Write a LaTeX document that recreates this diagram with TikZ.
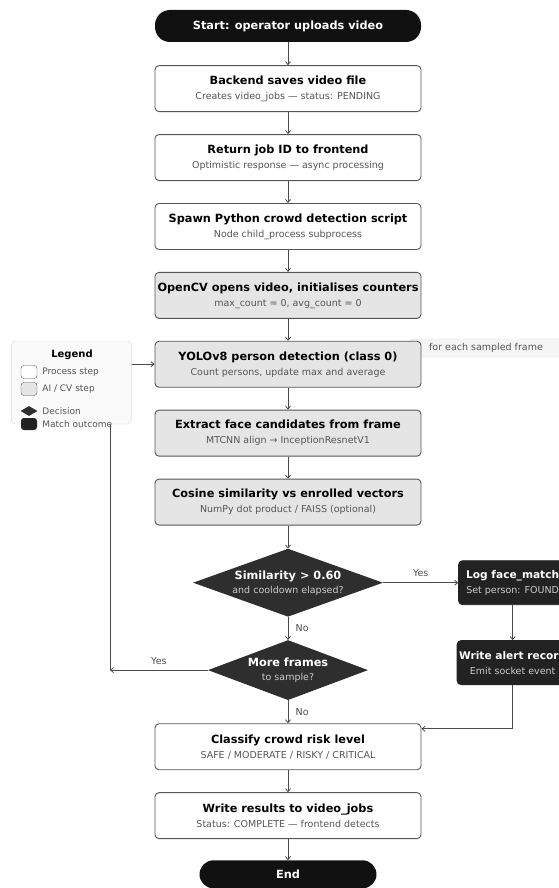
\documentclass[tikz,border=0pt]{standalone}
\usepackage{fontspec}
\setmainfont{DejaVu Sans}
\usetikzlibrary{arrows.meta,positioning,shapes.geometric,backgrounds}
\usepackage{xcolor}
\definecolor{edgegray}{HTML}{4A4A4A}
\definecolor{boxline}{HTML}{555555}
\definecolor{aifill}{HTML}{E5E5E5}
\definecolor{darkfill}{HTML}{222222}
\definecolor{decfill}{HTML}{2E2E2E}
\definecolor{termfill}{HTML}{111111}
\definecolor{subgray}{HTML}{555555}
\definecolor{sublight}{HTML}{CCCCCC}
\definecolor{legline}{HTML}{DDDDDD}
\definecolor{legfill}{HTML}{FAFAFA}
\newcommand{\ttl}[2][11.3]{{\fontsize{#1}{13}\selectfont\bfseries #2}}
\newcommand{\sbt}[2][subgray]{{\fontsize{9.5}{11}\selectfont\color{#1}#2}}

\begin{document}
\begin{tikzpicture}[x=1pt, y=-1pt,
  >={Straight Barb[length=3pt,width=5pt]}, node distance=22pt,
  b/.style={draw=boxline, line width=0.9pt, rounded corners=4pt, align=center,
            minimum width=266pt, minimum height=46pt, inner sep=2pt, fill=white},
  ai/.style={b, fill=aifill},
  dk/.style={b, fill=darkfill, draw=darkfill, text=white, minimum width=108pt, minimum height=44pt},
  tm/.style={fill=termfill, rounded corners=15pt, text=white, minimum height=32pt,
             font=\fontsize{11.3}{13}\selectfont\bfseries},
  dec/.style={diamond, fill=decfill, text=white, align=center, inner sep=0pt},
  ln/.style={->, draw=edgegray, line width=0.8pt},
  lbl/.style={font=\fontsize{9.5}{11}\selectfont, text=edgegray},
  lgsq/.style={draw=boxline, fill=white, rounded corners=3pt, minimum width=16pt,
               minimum height=13pt, inner sep=0pt},
  lgtx/.style={font=\fontsize{9}{11}\selectfont, text=subgray, inner sep=0pt}]
\useasboundingbox (0,0) rectangle (559,888);
\clip (0,0) rectangle (559,888);
\node[tm, minimum width=266pt] (start) at (288,26) {Start: operator uploads video};
\node[b, below=23pt of start] (save) {\ttl{Backend saves video file}\\[3pt]\sbt{Creates video\_jobs — status: PENDING}};
\node[b, below=of save] (ret) {\ttl{Return job ID to frontend}\\[3pt]\sbt{Optimistic response — async processing}};
\node[b, below=of ret] (spawn) {\ttl{Spawn Python crowd detection script}\\[3pt]\sbt{Node child\_process subprocess}};
\node[ai, below=of spawn] (cv) {\ttl{OpenCV opens video, initialises counters}\\[3pt]\sbt{max\_count = 0, avg\_count = 0}};
\node[ai, below=of cv] (yolo) {\ttl{YOLOv8 person detection (class 0)}\\[3pt]\sbt{Count persons, update max and average}};
\node[ai, below=of yolo] (face) {\ttl{Extract face candidates from frame}\\[3pt]\sbt{MTCNN align → InceptionResnetV1}};
\node[ai, below=of face] (cos) {\ttl{Cosine similarity vs enrolled vectors}\\[3pt]\sbt{NumPy dot product / FAISS (optional)}};
\node[dec, minimum width=190pt, minimum height=68pt, aspect=2.8, below=23pt of cos] (sim)
  {\ttl{Similarity > 0.60}\\[2pt]\sbt[sublight]{and cooldown elapsed?}};
\node[dec, minimum width=160pt, minimum height=60pt, aspect=2.67, below=23pt of sim] (more)
  {\ttl{More frames}\\[2pt]\sbt[sublight]{to sample?}};
\node[b, below=23pt of more] (cls) {\ttl{Classify crowd risk level}\\[3pt]\sbt{SAFE / MODERATE / RISKY / CRITICAL}};
\node[b, below=of cls] (res) {\ttl{Write results to video\_jobs}\\[3pt]\sbt{Status: COMPLETE — frontend detects}};
\node[tm, minimum width=177pt, minimum height=28pt, rounded corners=14pt, below=21pt of res] (end) {End};
\node[dk, right=75pt of sim] (log) {\ttl[10.6]{Log face\_match}\\[3pt]\sbt[sublight]{Set person: FOUND}};
\node[dk, below=35pt of log] (alert) {\ttl[10.6]{Write alert record}\\[3pt]\sbt[sublight]{Emit socket event}};
\begin{scope}[on background layer]
\node[draw=legline, fill=black!4, rounded corners=4pt, minimum width=154pt, minimum height=18pt,
      lbl, text=subgray] (each) at (486,348) {for each sampled frame};
\end{scope}
\draw[ln](start)--(save);\draw[ln](save)--(ret);\draw[ln](ret)--(spawn);\draw[ln](spawn)--(cv);
\draw[ln](cv)--(yolo);\draw[ln](yolo)--(face);\draw[ln](face)--(cos);\draw[ln](cos)--(sim);
\draw[ln](cls)--(res);\draw[ln](res)--(end);
\draw[ln] (sim) -- node[lbl, above=2pt] (yes1) {Yes} (log);
\draw[ln] (sim) -- node[lbl, right=4pt] (no1) {No} (more);
\draw[ln] (more) -- node[lbl, right=4pt] (no2) {No} (cls);
\draw[ln] (log) -- (alert);
\draw[ln] (alert.south) |- ([yshift=18pt]cls.east);
\coordinate (lp) at (110,0 |- more.west);
\draw[ln] (more) -- node[lbl, above=2pt] (yes2) {Yes} (lp);
\draw[ln] (lp) |- (yolo.west);
\node[draw=legline, fill=legfill, rounded corners=4pt, minimum width=120pt, minimum height=83pt,
      left=23pt of yolo.north west, anchor=north east] (leg) {};
\node[font=\fontsize{10}{12}\selectfont\bfseries] (legt) at (72,355) {Legend};
\node[lgsq] (lg1) at (29,372) {};
\node[lgtx, right=5pt of lg1] (lgt1) {Process step};
\node[lgsq, fill=aifill] (lg2) at (29,389) {};
\node[lgtx, right=5pt of lg2] (lgt2) {AI / CV step};
\node[diamond, fill=decfill, minimum width=17pt, minimum height=10pt, inner sep=0pt] (lg3) at (29,411) {};
\node[lgtx, right=4.5pt of lg3] (lgt3) {Decision};
\node[fill=darkfill, rounded corners=3pt, minimum width=16pt, minimum height=12pt, inner sep=0pt] (lg4) at (29,424) {};
\node[lgtx, right=5pt of lg4] (lgt4) {Match outcome};
\end{tikzpicture}
\end{document}
